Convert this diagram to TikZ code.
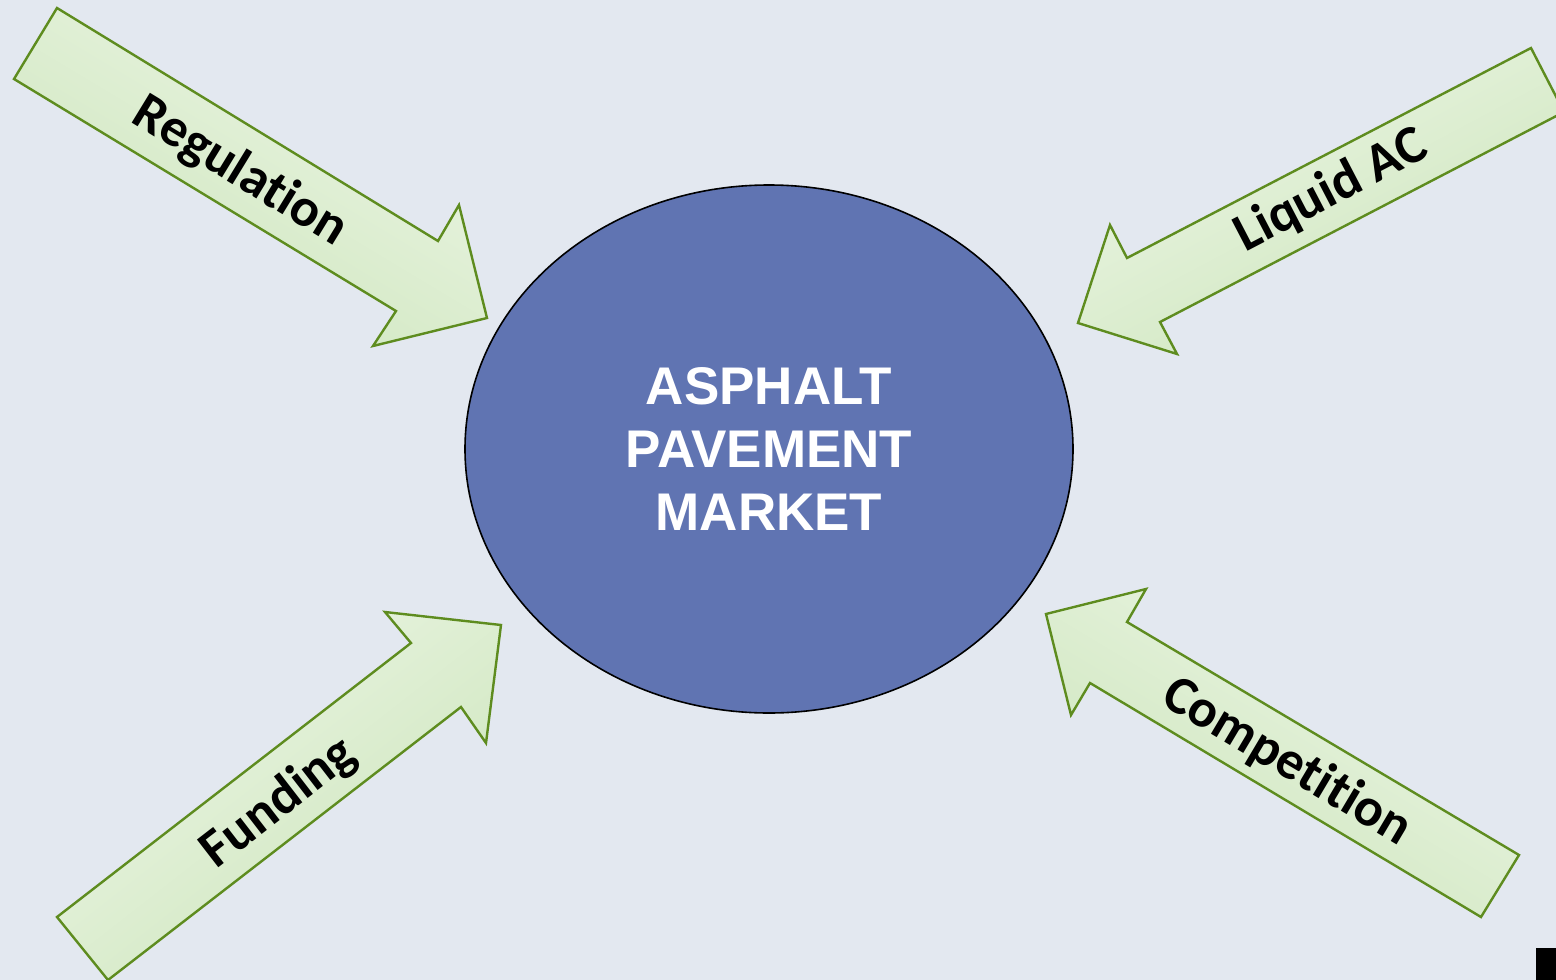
\documentclass[tikz,border=0pt]{standalone}
\usepackage{fontspec}
\setmainfont{Liberation Sans}
\newfontfamily\labelfont{Carlito}[Ligatures={NoCommon}]
\usetikzlibrary{shapes.geometric}

\definecolor{bgcol}{HTML}{E3E8F0}
\definecolor{marketcol}{HTML}{6074B2}
\definecolor{arrowline}{HTML}{5E8C1F}
\definecolor{arrowlight}{HTML}{EDF6E6}
\definecolor{arrowdark}{HTML}{CCE5BB}

\tikzset{
  blockarrow/.style={draw=arrowline, line width=2.4pt, line join=miter,
    top color=arrowlight, bottom color=arrowdark, shading angle=#1},
  forcelabel/.style={font=\labelfont\bfseries\fontsize{54}{60}\selectfont, inner sep=0pt},
}

\begin{document}
\begin{tikzpicture}[x=1pt,y=-1pt]
    \useasboundingbox (0,0) rectangle (1556,980);
    \fill[bgcol] (0,0) rectangle (1556,980);
    \clip (0,0) rectangle (1556,980);

    % the market
    \node (market) [ellipse, draw=black, line width=1.6pt, fill=marketcol,
        minimum width=608, minimum height=528, align=center, text=white,
        font=\bfseries\fontsize{53}{63}\selectfont] at (769,449)
        {ASPHALT\\PAVEMENT\\MARKET};

    % the four forces
    \draw[blockarrow=-31] (57,8) -- (438,241) -- (459,205) -- (487,318)
        -- (373,346) -- (396,311) -- (14,79) -- cycle;
    \draw[blockarrow=28] (1531,48) -- (1564,112) -- (1160,322) -- (1177,354)
        -- (1078,323) -- (1110,225) -- (1127,258) -- cycle;
    \draw[blockarrow=38] (57,917) -- (411,643) -- (385,612) -- (501,625)
        -- (486,743) -- (461,707) -- (108,980) -- cycle;
    \draw[blockarrow=-31] (1519,855) -- (1481,917) -- (1090,683) -- (1071,715)
        -- (1046,614) -- (1146,589) -- (1127,622) -- cycle;

    \node (regulation) [forcelabel, rotate=-31.4] at (240,172) {Regulation};
    \node (liquid) [forcelabel, rotate=27.5] at (1331,191) {Liquid AC};
    \node (funding) [forcelabel, rotate=37.7] at (279,803) {Funding};
    \node (competition) [forcelabel, rotate=-30.7] at (1287,762) {Competition};

    % cut-off mark in the corner
    \fill[black] (1536,948) -- (1556,948) -- (1556,980) -- (1536,980) -- cycle;
\end{tikzpicture}
\end{document}
